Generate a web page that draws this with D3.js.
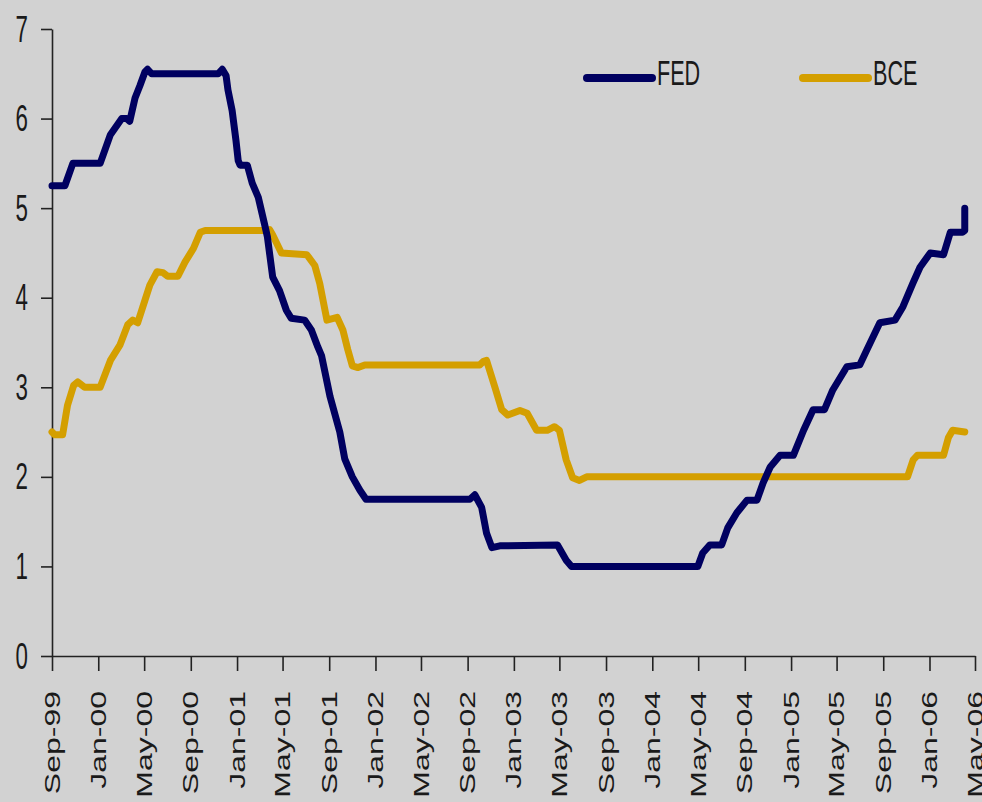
<!DOCTYPE html>
<html>
<head>
<meta charset="utf-8">
<script src="https://cdn.jsdelivr.net/npm/d3@7"></script>
<style>
  body { margin: 0; background: #d2d2d2; }
  svg { display: block; background: #d2d2d2; }
  text { font-family: "Liberation Sans", Arial, sans-serif; fill: #1a1a1a; }
</style>
</head>
<body>
<script>
// policy rates (percent)
var fedDates = ["1999-09-01","1999-10-05","1999-10-26","2000-01-06","2000-02-02","2000-03-03","2000-03-16","2000-03-24",
  "2000-04-07","2000-04-20","2000-05-03","2000-05-10","2000-05-21","2000-11-12","2000-11-23","2000-12-03","2000-12-08",
  "2000-12-19","2000-12-29","2001-01-04","2001-01-09","2001-01-28","2001-02-10","2001-02-26","2001-03-14","2001-03-22",
  "2001-04-05","2001-04-23","2001-05-11","2001-05-24","2001-06-28","2001-07-16","2001-08-02","2001-08-12","2001-09-03",
  "2001-09-29","2001-10-12","2001-11-01","2001-11-21","2001-12-07","2002-09-07","2002-09-20","2002-10-08","2002-10-21",
  "2002-11-04","2002-11-25","2003-04-26","2003-05-19","2003-06-02","2004-04-30","2004-05-13","2004-06-01","2004-07-02",
  "2004-07-18","2004-08-11","2004-09-07","2004-10-03","2004-10-19","2004-11-07","2004-12-03","2005-01-07","2005-02-03",
  "2005-02-28","2005-03-30","2005-04-21","2005-05-28","2005-07-01","2005-07-19","2005-08-23","2005-10-02","2005-10-23",
  "2005-11-18","2005-12-07","2006-01-03","2006-02-07","2006-02-25","2006-03-29","2006-04-04","2006-04-04"];
var fedValues = [5.25,5.25,5.5,5.5,5.82,6.0,6.0,5.97,
  6.23,6.37,6.52,6.55,6.5,6.5,6.55,6.48,6.32,
  6.09,5.76,5.53,5.48,5.48,5.28,5.12,4.83,4.68,
  4.23,4.08,3.86,3.77,3.75,3.64,3.45,3.35,2.9,
  2.5,2.2,2.0,1.85,1.75,1.75,1.8,1.66,1.37,
  1.21,1.23,1.24,1.07,1.0,1.0,1.15,1.24,1.24,
  1.43,1.6,1.74,1.74,1.93,2.11,2.24,2.24,2.52,
  2.75,2.75,2.97,3.23,3.25,3.41,3.72,3.75,3.9,
  4.16,4.34,4.5,4.48,4.73,4.73,4.75,5.0];

var bceDates = ["1999-09-01","1999-09-08","1999-09-29","1999-10-12","1999-10-28","1999-11-08","1999-11-26","2000-01-06",
  "2000-02-02","2000-02-27","2000-03-19","2000-04-01","2000-04-14","2000-05-03","2000-05-16","2000-06-04","2000-06-20",
  "2000-07-02","2000-07-29","2000-08-17","2000-09-08","2000-09-26","2000-10-09","2001-03-14","2001-03-28","2001-04-05",
  "2001-04-28","2001-07-04","2001-07-25","2001-08-07","2001-08-26","2001-09-22","2001-10-07","2001-10-20","2001-11-01",
  "2001-11-16","2001-12-04","2002-10-03","2002-10-13","2002-10-21","2002-11-12","2002-11-30","2002-12-16","2003-01-17",
  "2003-02-05","2003-03-02","2003-03-30","2003-04-18","2003-05-01","2003-05-19","2003-06-05","2003-06-23","2003-07-12",
  "2005-11-04","2005-11-19","2005-11-30","2006-02-07","2006-02-20","2006-03-03","2006-04-04"];
var bceValues = [2.5,2.47,2.47,2.8,3.02,3.06,3.0,3.0,
  3.3,3.47,3.7,3.75,3.72,3.97,4.14,4.29,4.28,
  4.24,4.24,4.4,4.55,4.73,4.75,4.75,4.76,4.7,
  4.5,4.48,4.36,4.16,3.75,3.78,3.64,3.42,3.24,
  3.22,3.25,3.25,3.29,3.3,3.0,2.75,2.69,2.74,
  2.71,2.52,2.52,2.56,2.52,2.19,1.99,1.96,2.0,
  2.0,2.19,2.24,2.24,2.44,2.52,2.5];

var seriesNames = ["FED", "BCE"];
var seriesColors = ["#000060", "#d49f00"];
var xTickLabels = ["Sep-99","Jan-00","May-00","Sep-00","Jan-01","May-01","Sep-01","Jan-02","May-02","Sep-02",
  "Jan-03","May-03","Sep-03","Jan-04","May-04","Sep-04","Jan-05","May-05","Sep-05","Jan-06","May-06"];
var yTicks = [0, 1, 2, 3, 4, 5, 6, 7];

var width = 982, height = 802;
var parseDate = d3.timeParse("%Y-%m-%d"),
    parseTick = d3.timeParse("%b-%y");

var svg = d3.select("body").append("svg")
  .attr("width", width)
  .attr("height", height);

var x = d3.scaleTime()
  .domain([parseTick("Sep-99"), parseTick("May-06")])
  .range([52, 975]);
var y = d3.scaleLinear()
  .domain([0, 7])
  .range([656, 29]);

// axes
var yAxis = svg.append("g")
  .attr("transform", "translate(52,0)")
  .call(d3.axisLeft(y).tickValues(yTicks).tickSize(11).tickSizeOuter(0).tickFormat(""));
yAxis.selectAll("path, line").attr("stroke", "#222").attr("stroke-width", 1.6);

var xAxis = svg.append("g")
  .attr("transform", "translate(0,656)")
  .call(d3.axisBottom(x).tickValues(xTickLabels.map(parseTick)).tickSize(15).tickSizeOuter(0).tickFormat(""));
xAxis.selectAll("path, line").attr("stroke", "#222").attr("stroke-width", 1.6);

// y labels, horizontally squeezed like the original
svg.selectAll(".ylab")
  .data(yTicks)
  .enter()
  .append("text")
  .attr("class", "ylab")
  .attr("transform", function(d){ return "translate(28," + y(d) + ") scale(0.62,1)"; })
  .attr("text-anchor", "end")
  .attr("dy", "0.35em")
  .style("font-size", "36px")
  .text(function(d){ return d; });

// x labels, rotated
svg.selectAll(".xlab")
  .data(xTickLabels)
  .enter()
  .append("text")
  .attr("class", "xlab")
  .attr("transform", function(d){ return "translate(" + x(parseTick(d)) + ",691) scale(0.68,1) rotate(-90)"; })
  .attr("text-anchor", "end")
  .attr("dy", "0.35em")
  .style("font-size", "32px")
  .text(function(d){ return d; });

// lines
var line = d3.line()
  .x(function(d){ return x(d[0]); })
  .y(function(d){ return y(d[1]); });

var fedData = fedDates.map(function(d, i){ return [parseDate(d), fedValues[i]]; });
var bceData = bceDates.map(function(d, i){ return [parseDate(d), bceValues[i]]; });

svg.append("path")
  .datum(bceData)
  .attr("fill", "none")
  .attr("stroke", seriesColors[1])
  .attr("stroke-width", 7)
  .attr("stroke-linejoin", "round")
  .attr("stroke-linecap", "round")
  .attr("d", line);

svg.append("path")
  .datum(fedData)
  .attr("fill", "none")
  .attr("stroke", seriesColors[0])
  .attr("stroke-width", 7)
  .attr("stroke-linejoin", "round")
  .attr("stroke-linecap", "round")
  .attr("d", line);

// legend
var legendX = [587, 803];
var legend = svg.selectAll(".legend")
  .data(seriesNames)
  .enter()
  .append("g")
  .attr("class", "legend")
  .attr("transform", function(d, i){ return "translate(" + legendX[i] + ",78)"; });
legend.append("line")
  .attr("x1", 0).attr("x2", 65)
  .attr("stroke", function(d, i){ return seriesColors[i]; })
  .attr("stroke-width", 8)
  .attr("stroke-linecap", "round");
legend.append("text")
  .attr("transform", "translate(70,7) scale(0.6,1)")
  .style("font-size", "36px")
  .text(function(d){ return d; });
</script>
</body>
</html>
